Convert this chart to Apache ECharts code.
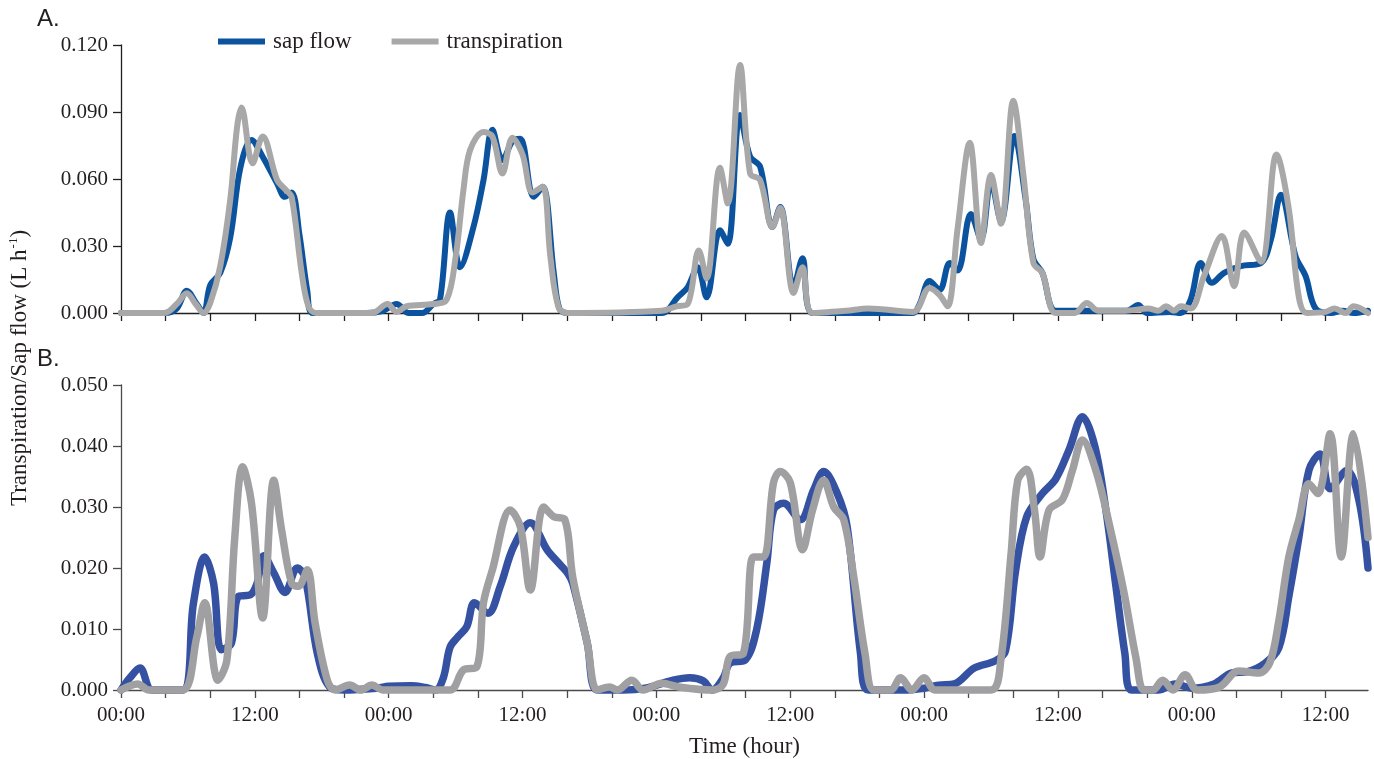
<!DOCTYPE html>
<html>
<head>
<meta charset="utf-8">
<script src="https://cdn.jsdelivr.net/npm/echarts@6/dist/echarts.min.js"></script>
<style>
html,body{margin:0;padding:0;background:#fff;}
#chart{width:1374px;height:759px;}
</style>
</head>
<body>
<div id="chart"></div>
<script>
// ---------- Panel A: hours and values (L h-1) ----------
const hA_sap = [0,3.9,5.0,5.9,6.8,7.4,8.0,8.9,9.8,10.7,11.7,12.7,14.0,14.7,15.3,16.0,16.7,17.2,22.0,23.5,24.7,25.8,27.0,28.0,28.6,29.5,30.4,31.6,32.5,33.3,34.2,35.2,35.8,37.0,37.8,38.8,39.3,40.0,48.5,49.9,50.8,51.7,52.5,53.7,54.4,55.5,56.4,57.3,58.4,59.1,60.3,61.1,62.0,66.0,71.0,71.6,72.5,73.4,74.3,75.0,76.2,77.1,78.0,78.9,80.1,81.1,81.8,82.6,83.8,86.0,88.0,90.2,91.2,92.0,94.0,95.0,95.9,96.8,97.8,98.9,100.4,102.2,103.1,104.0,105.3,106.2,107.1,108.5,109.5,110.5,111.8];
const vA_sap = [0,0,0.002,0.010,0.004,0,0.0125,0.018,0.034,0.065,0.0775,0.070,0.058,0.052,0.054,0.035,0.010,0,0,0.001,0.004,0,0,0.004,0.006,0.045,0.0205,0.0385,0.0595,0.082,0.0685,0.0775,0.078,0.052,0.0565,0.018,0.002,0,0,0.007,0.0115,0.0205,0.007,0.037,0.031,0.0887,0.070,0.0655,0.0385,0.0475,0.0115,0.0245,0,0,0,0.004,0.0143,0.0103,0.0224,0.019,0.0443,0.033,0.0587,0.041,0.0793,0.051,0.0242,0.018,0.001,0.001,0.001,0.001,0.0036,0,0.0005,0,0.006,0.0224,0.0135,0.018,0.021,0.0224,0.033,0.053,0.0255,0.0166,0.002,0,0.001,0,0.001];

const hA_tr = [0,3.9,5.0,5.9,6.7,7.4,8.0,8.9,9.8,10.4,10.8,11.8,12.7,14.0,14.8,15.3,16.2,16.8,17.5,22.5,23.9,24.7,25.6,28.0,29.2,30.0,30.7,31.3,32.5,33.3,34.2,35.1,36.0,36.9,37.8,38.5,39.2,40.0,48.5,49.8,50.8,51.8,52.5,53.7,54.4,55.5,56.4,57.3,58.4,59.1,60.3,61.1,62.0,65.0,67.0,71.0,72.5,73.4,74.1,75.0,76.1,77.1,78.0,78.9,80.0,80.9,81.8,82.6,83.8,85.5,86.6,87.6,90.0,92.1,93.0,93.7,94.4,95.0,95.9,97.1,98.7,99.8,100.7,102.2,103.6,104.7,105.6,106.3,108.0,108.8,109.8,110.5,111.8];
const vA_tr = [0,0,0.004,0.0088,0.004,0,0.0045,0.021,0.051,0.083,0.092,0.067,0.079,0.0595,0.055,0.052,0.018,0.003,0,0,0.004,0.0005,0.003,0.004,0.006,0.025,0.055,0.073,0.081,0.079,0.0625,0.0785,0.071,0.054,0.0565,0.025,0.003,0,0.001,0.003,0.004,0.028,0.0155,0.065,0.049,0.111,0.0625,0.0595,0.0385,0.047,0.009,0.0205,0,0.001,0.002,0.0005,0.0112,0.008,0.003,0.0376,0.0762,0.0313,0.0618,0.040,0.095,0.062,0.0224,0.018,0,0,0.0045,0.001,0.001,0.002,0.001,0.003,0.001,0.003,0.002,0.0166,0.0345,0.012,0.036,0.023,0.071,0.0466,0.007,0,0.0005,0.002,0,0.003,0];

// ---------- Panel B: hours and values (L h-1) ----------
const hB_sap = [0,0.8,1.7,2.8,5.5,6.5,7.5,8.3,9.0,9.9,10.5,11.6,12.2,12.8,13.7,14.7,15.8,16.5,17.6,18.7,20.0,23.0,24.0,26.0,27.3,28.2,28.9,29.5,30.2,31.0,31.7,32.9,34.0,35.2,36.7,38.2,39.4,40.1,40.5,41.8,42.7,45.0,47.0,49.5,51.0,52.2,53.0,54.0,54.6,56.0,57.0,57.9,58.5,59.4,60.9,62.1,63.0,64.2,65.1,66.3,67.0,70.0,72.0,73.3,74.7,76.5,78.4,79.3,80.2,81.2,82.6,83.8,85.0,86.2,87.3,88.3,89.2,90.0,90.6,93.0,94.5,96.0,98.0,99.6,101.0,102.5,103.8,104.7,105.6,106.5,107.5,108.4,109.9,111.0,111.8];
const vB_sap = [0,0.002,0.0036,0,0,0.0143,0.0218,0.0175,0.0066,0.0077,0.0153,0.0156,0.0175,0.022,0.0192,0.016,0.020,0.0185,0.006,0.0005,0,0.0003,0.0006,0.0007,0.0004,0,0.002,0.007,0.0087,0.0104,0.0143,0.0126,0.017,0.0235,0.0274,0.023,0.0205,0.019,0.0175,0.0077,0,0,0.0003,0.0016,0.002,0.0015,0,0.002,0.0044,0.005,0.010,0.0208,0.0295,0.0306,0.0279,0.0328,0.0358,0.0323,0.0268,0.006,0,0,0.0003,0.0008,0.001,0.0036,0.0048,0.0064,0.0195,0.0284,0.0322,0.0346,0.0394,0.0448,0.040,0.0295,0.017,0.006,0,0,0.001,0.0003,0.001,0.0028,0.003,0.0043,0.0069,0.0153,0.025,0.036,0.0387,0.0330,0.036,0.031,0.020];

const hB_tr = [0,1.5,2.5,5.5,6.8,7.5,8.7,9.5,10.2,10.9,11.7,12.7,13.7,14.4,15.3,15.9,16.7,17.4,18.5,19.2,20.5,21.5,22.5,23.5,26.0,29.5,30.7,31.9,32.5,33.3,34.9,35.8,36.7,37.9,38.8,39.8,40.5,41.8,42.7,43.8,44.5,45.8,46.8,48.5,50.0,53.0,54.0,54.6,55.8,56.7,57.6,58.5,59.1,60.0,61.1,62.0,63.0,63.9,64.8,65.7,66.7,67.5,69.0,69.9,70.9,72.0,73.0,78.0,78.9,79.8,80.4,81.2,81.9,82.4,83.2,84.4,85.3,86.2,87.4,88.6,89.9,91.0,91.7,92.5,93.4,94.3,95.4,96.5,98.5,100.2,102.0,103.0,103.8,104.7,105.6,106.5,107.3,108.4,109.4,110.5,111.8];
const vB_tr = [0,0.001,0,0,0.0087,0.0143,0.0016,0.005,0.025,0.0366,0.0306,0.0118,0.0344,0.0262,0.0175,0.017,0.0197,0.011,0.0016,0,0.0008,0,0.0008,0,0,0,0.0033,0.0038,0.0143,0.0197,0.0295,0.0268,0.0164,0.030,0.0284,0.0279,0.0185,0.0077,0,0.0005,0,0.0016,0,0.0011,0.0005,0,0.001,0.0055,0.006,0.0218,0.0218,0.034,0.0358,0.034,0.023,0.0295,0.0344,0.030,0.0279,0.0185,0.006,0,0,0.002,0,0.002,0,0,0.0052,0.0223,0.0344,0.0362,0.0295,0.0218,0.0295,0.0312,0.036,0.041,0.036,0.0272,0.0162,0.0052,0,0,0.0016,0,0.0025,0,0.0005,0.0031,0.0028,0.0045,0.0113,0.0218,0.0279,0.0338,0.0322,0.042,0.0218,0.042,0.025];

// ---------- axis ticks / labels ----------
const xTicks = [0,4,8,12,16,20,24,28,32,36,40,44,48,52,56,60,64,68,72,76,80,84,88,92,96,100,104,108];
const xLabelHours = [0,12,24,36,48,60,72,84,96,108];
const xLabelText = ['00:00','12:00'];
const yTicksA = [0, 0.03, 0.06, 0.09, 0.12];
const yTicksB = [0, 0.01, 0.02, 0.03, 0.04, 0.05];
const seriesNames = ['sap flow', 'transpiration'];

const zip = (h, v) => h.map((x, i) => [x, v[i]]);
const serif = 'Liberation Serif';
const ink = '#231f20';

function xAxisCfg(gridIndex, showLabels, lineColor) {
  return {
    type: 'value', gridIndex, min: 0, max: 111.8, interval: 4,
    axisLine: {show: true, lineStyle: {color: lineColor, width: 1.3}},
    axisTick: {show: true, length: 8, customValues: xTicks, lineStyle: {color: lineColor, width: 1.3}},
    axisLabel: showLabels ? {
      show: true, customValues: xLabelHours, margin: 15,
      fontFamily: serif, fontSize: 21, color: ink,
      formatter: v => xLabelText[(Math.round(v) / 12) % 2]
    } : {show: false},
    splitLine: {show: false}
  };
}
function yAxisCfg(gridIndex, max, interval, lineColor) {
  return {
    type: 'value', gridIndex, min: 0, max, interval,
    axisLine: {show: true, lineStyle: {color: lineColor, width: 1.3}},
    axisTick: {show: true, length: 8, lineStyle: {color: lineColor, width: 1.3}},
    axisLabel: {fontFamily: serif, fontSize: 21, color: ink, margin: 13, formatter: v => v.toFixed(3)},
    splitLine: {show: false}
  };
}
function lineSeries(name, xi, data, color, width) {
  return {
    name, type: 'line', xAxisIndex: xi, yAxisIndex: xi, data,
    smooth: 0.35, symbol: 'none', clip: false,
    lineStyle: {color, width, cap: 'round', join: 'round'},
    itemStyle: {color}
  };
}

const chart = echarts.init(document.getElementById('chart'), null, {renderer: 'canvas'});
chart.setOption({
  animation: false,
  backgroundColor: '#ffffff',
  grid: [
    {left: 121, right: 6, top: 45, height: 268},
    {left: 121, right: 6, top: 385, height: 305}
  ],
  legend: {
    data: seriesNames, left: 213, top: 25, icon: 'rect',
    itemWidth: 47, itemHeight: 6, itemGap: 40,
    textStyle: {fontFamily: serif, fontSize: 23, color: ink, padding: [0, 0, 0, 3]}
  },
  xAxis: [xAxisCfg(0, false, ink), Object.assign(xAxisCfg(1, true, '#4a4a4a'), {
    name: 'Time (hour)', nameLocation: 'middle', nameGap: 45,
    nameTextStyle: {fontFamily: serif, fontSize: 23, color: ink}
  })],
  yAxis: [yAxisCfg(0, 0.12, 0.03, ink), yAxisCfg(1, 0.05, 0.01, '#4a4a4a')],
  series: [
    lineSeries(seriesNames[0], 0, zip(hA_sap, vA_sap), '#0b539e', 6),
    lineSeries(seriesNames[1], 0, zip(hA_tr, vA_tr), '#a8a8a8', 6),
    lineSeries(seriesNames[0], 1, zip(hB_sap, vB_sap), '#3552a2', 7.5),
    lineSeries(seriesNames[1], 1, zip(hB_tr, vB_tr), '#a0a0a2', 7.5)
  ],
  graphic: [
    {type: 'text', left: 37, top: 7, style: {text: 'A.', fontFamily: 'Liberation Sans', fontSize: 24, fill: ink}},
    {type: 'text', left: 37, top: 347, style: {text: 'B.', fontFamily: 'Liberation Sans', fontSize: 24, fill: ink}},
    {type: 'text', x: 20, y: 368, rotation: Math.PI / 2,
     style: {text: 'Transpiration/Sap flow (L h{sup|-1})', fontFamily: serif, fontSize: 23, fill: ink,
       align: 'center', verticalAlign: 'middle',
       rich: {sup: {fontFamily: serif, fontSize: 13, fill: ink, padding: [0, 0, 12, 1]}}}}
  ]
});
</script>
</body>
</html>
